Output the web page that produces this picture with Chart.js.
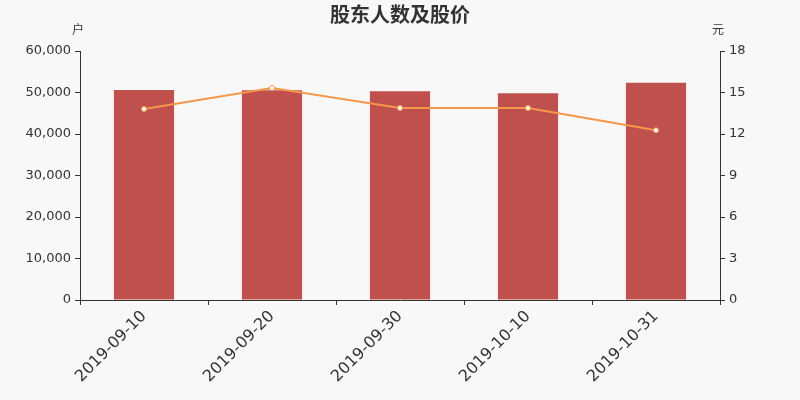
<!DOCTYPE html>
<html>
<head>
<meta charset="utf-8">
<script src="https://cdn.jsdelivr.net/npm/chart.js@4"></script>
<style>
  html, body { margin: 0; padding: 0; background: #f8f8f8; }
  #chart { display: block; }
</style>
</head>
<body>
<canvas id="chart" width="800" height="400"></canvas>
<script>
const dates = ["2019-09-10", "2019-09-20", "2019-09-30", "2019-10-10", "2019-10-31"];
const holders = [50600, 50530, 50290, 49810, 52360];
const prices = [13.81, 15.33, 13.88, 13.88, 12.27];

const textColor = "#333333";
const fontFamily = "'DejaVu Sans', 'Noto Sans CJK SC', sans-serif";

// draws the title and the two unit labels above the axes
const labelsPlugin = {
  id: "labels",
  afterDraw(chart) {
    const ctx = chart.ctx;
    const area = chart.chartArea;
    ctx.save();
    ctx.fillStyle = textColor;
    ctx.textAlign = "center";
    ctx.textBaseline = "middle";
    ctx.font = "bold 20px 'Noto Sans CJK SC', sans-serif";
    ctx.fillText("股东人数及股价", chart.width / 2, 14);
    ctx.font = "12px 'Noto Sans CJK SC', sans-serif";
    ctx.fillText("户", area.left - 2, 29);
    ctx.fillText("元", area.right - 2, 29);
    ctx.restore();
  },
};

const axisTick = { color: textColor, font: { family: fontFamily, size: 13 } };

new Chart(document.getElementById("chart"), {
  data: {
    labels: dates,
    datasets: [
      {
        type: "line",
        label: "股价",
        data: prices,
        yAxisID: "y1",
        borderColor: "#f5974a",
        borderWidth: 2,
        backgroundColor: "#ffffff",
        pointBackgroundColor: "#ffffff",
        pointBorderColor: "#f5974a",
        pointBorderWidth: 1,
        pointRadius: 2.5,
        tension: 0,
        order: 0,
      },
      {
        type: "bar",
        label: "股东人数",
        data: holders,
        yAxisID: "y",
        backgroundColor: "#c0504d",
        barPercentage: 0.47,
        categoryPercentage: 1,
        order: 1,
      },
    ],
  },
  options: {
    responsive: false,
    animation: false,
    devicePixelRatio: 1,
    layout: { padding: { top: 51, left: 0, right: 0, bottom: 0 } },
    plugins: {
      legend: { display: false },
      title: { display: false },
      tooltip: { enabled: false },
    },
    scales: {
      x: {
        offset: true,
        grid: { offset: true, drawOnChartArea: false, drawTicks: true, tickLength: 5, color: textColor },
        border: { display: true, color: textColor },
        ticks: {
          color: textColor,
          font: { family: fontFamily, size: 16 },
          minRotation: 45,
          maxRotation: 45,
          padding: 2,
        },
        afterFit(scale) { scale.height = 100; },
      },
      y: {
        position: "left",
        min: 0,
        max: 60000,
        grid: { drawOnChartArea: false, drawTicks: true, tickLength: 5, color: textColor },
        border: { display: true, color: textColor },
        ticks: {
          ...axisTick,
          stepSize: 10000,
          padding: 4,
          callback: (v) => v.toLocaleString("en-US"),
        },
        afterFit(scale) { scale.width = 80; },
      },
      y1: {
        position: "right",
        min: 0,
        max: 18,
        grid: { drawOnChartArea: false, drawTicks: true, tickLength: 5, color: textColor },
        border: { display: true, color: textColor },
        ticks: { ...axisTick, stepSize: 3, padding: 4 },
        afterFit(scale) { scale.width = 80; },
      },
    },
  },
  plugins: [labelsPlugin],
});
</script>
</body>
</html>
